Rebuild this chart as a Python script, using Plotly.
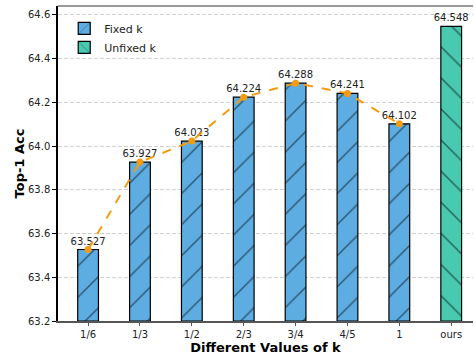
import plotly.graph_objects as go

categories = ["1/6", "1/3", "1/2", "2/3", "3/4", "4/5", "1", "ours"]
fixed_vals = [63.527, 63.927, 64.023, 64.224, 64.288, 64.241, 64.102]
unfixed_vals = [64.548]
y_ticks = [63.2, 63.4, 63.6, 63.8, 64.0, 64.2, 64.4, 64.6]

blue = "#5DADE2"
teal = "#48C9B0"
orange = "#F39C12"

fig = go.Figure()
fig.add_trace(go.Bar(
    x=list(range(len(fixed_vals))), y=[v - 63.2 for v in fixed_vals], base=63.2,
    name="Fixed k", width=0.4,
    marker=dict(color=blue, line=dict(color="black", width=1.2),
                pattern=dict(shape="/", fgcolor="black", size=22, solidity=0.065)),
    text=[f"{v:.3f}" for v in fixed_vals], textposition="outside", constraintext="none",
    textfont=dict(size=10, color="#222", family="DejaVu Sans"), cliponaxis=False,
))
fig.add_trace(go.Bar(
    x=[7], y=[v - 63.2 for v in unfixed_vals], base=63.2,
    name="Unfixed k", width=0.4,
    marker=dict(color=teal, line=dict(color="black", width=1.2),
                pattern=dict(shape="\\", fgcolor="black", size=22, solidity=0.065)),
    text=[f"{v:.3f}" for v in unfixed_vals], textposition="outside", constraintext="none",
    textfont=dict(size=10, color="#222", family="DejaVu Sans"), cliponaxis=False,
))
fig.add_trace(go.Scatter(
    x=list(range(len(fixed_vals))), y=fixed_vals, mode="lines+markers",
    line=dict(color=orange, width=2, dash="dash"),
    marker=dict(color=orange, size=7), showlegend=False, cliponaxis=False,
))

fig.update_layout(
    width=475, height=356,
    margin=dict(l=58, r=2, t=6, b=35),
    paper_bgcolor="white", plot_bgcolor="white",
    font=dict(family="DejaVu Sans", size=10, color="#222"),
    barmode="overlay",
    legend=dict(x=0.015, y=0.975, xanchor="left", yanchor="top",
                bgcolor="rgba(0,0,0,0)", font=dict(size=11, color="#222"), itemwidth=30,
                tracegroupgap=0),
    xaxis=dict(
        range=[-0.58, 7.42], tickmode="array", tickvals=list(range(len(categories))),
        ticktext=categories, showgrid=False, zeroline=False,
        showline=True, linecolor="#555", linewidth=1.5,
        ticks="outside", ticklen=3, tickcolor="#555",
        title=dict(text="<b>Different Values of k</b>", font=dict(size=13, color="black"), standoff=4),
    ),
    yaxis=dict(
        range=[63.2, 64.641], tickmode="array", tickvals=y_ticks,
        ticktext=[f"{t:.1f}" for t in y_ticks],
        showgrid=True, gridcolor="#d0d0d0", griddash="4px,2px", gridwidth=1,
        zeroline=False, showline=True, linecolor="black", linewidth=1.5,
        ticks="outside", ticklen=4, tickcolor="black",
        title=dict(text="<b>Top-1 Acc</b>", font=dict(size=13, color="black"), standoff=0),
    ),
    shapes=[dict(type="line", xref="paper", yref="paper", x0=0, x1=1, y0=1, y1=1,
                 line=dict(color="#777", width=1.5))],
)

fig.write_html("out.html", config={"displayModeBar": False},
               post_script="document.body.style.margin='0px';")
